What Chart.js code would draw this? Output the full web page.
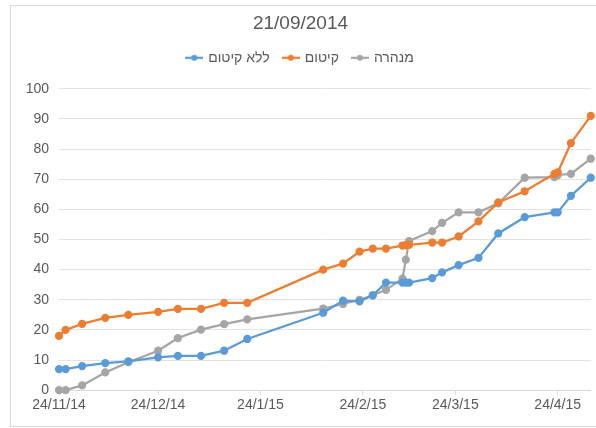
<!DOCTYPE html>
<html>
<head>
<meta charset="utf-8">
<script src="https://cdn.jsdelivr.net/npm/chart.js@4"></script>
<style>
  html, body { margin: 0; padding: 0; background: #fff; }
  #wrap { position: absolute; left: 0; top: 0; width: 596px; height: 428px; }
  #frame { position: absolute; left: 10px; top: 5px; width: 600px; height: 420px; border: 1px solid #d9d9d9; }
</style>
</head>
<body>
<div id="frame"></div>
<div id="wrap"><canvas id="chart" width="596" height="428"></canvas></div>
<script>
// measurement dates (d/m/yy)
const dates = ['24/11/14', '26/11/14', '1/12/14', '8/12/14', '15/12/14', '24/12/14', '30/12/14',
  '6/1/15', '13/1/15', '20/1/15', '12/2/15', '18/2/15', '23/2/15', '27/2/15', '3/3/15',
  '8/3/15', '9/3/15', '10/3/15', '17/3/15', '20/3/15', '25/3/15', '31/3/15', '6/4/15',
  '14/4/15', '23/4/15', '24/4/15', '28/4/15', '4/5/15'];

// series values
const noCut = [7, 7, 8, 9, 9.6, 10.9, 11.4, 11.4, 13.1, 17, 25.7, 29.7, 29.5, 31.5, 35.7,
  35.7, 35.7, 35.7, 37.2, 39.1, 41.5, 43.9, 52, 57.4, 59, 59, 64.5, 70.5];
const cut = [18, 20, 22, 24, 25, 26, 27, 27, 29, 29, 40, 42, 46, 47, 47,
  48, 48.1, 48.2, 49, 49, 51, 56, 62.3, 66, 71.8, 72.3, 82, 91];
const tunnel = [0, 0, 1.6, 5.9, 9.3, 13.1, 17.3, 20.1, 21.9, 23.5, 27.1, 28.6, 30, 31.5, 33.3,
  37, 43.3, 49.5, 52.8, 55.5, 59, 59, 62, 70.5, 70.7, 71.4, 71.8, 76.8];

const seriesNames = ['ללא קיטום', 'קיטום', 'מנהרה'];
const seriesColors = ['#5B9BD5', '#ED7D31', '#A5A5A5'];
const xTickLabels = ['24/11/14', '24/12/14', '24/1/15', '24/2/15', '24/3/15', '24/4/15'];
const yTicks = [0, 10, 20, 30, 40, 50, 60, 70, 80, 90, 100];

// days since first date
function dayOf(s) {
  const [d, m, y] = s.split('/').map(Number);
  return (Date.UTC(2000 + y, m - 1, d) - Date.UTC(2014, 10, 24)) / 864e5;
}
const xDays = dates.map(dayOf);
const xTickDays = xTickLabels.map(dayOf);

// legend marker: short line with a dot
function marker(color) {
  const c = document.createElement('canvas');
  c.width = 18; c.height = 8;
  const g = c.getContext('2d');
  g.strokeStyle = color; g.lineWidth = 2.25;
  g.beginPath(); g.moveTo(0, 4); g.lineTo(18, 4); g.stroke();
  g.fillStyle = color;
  g.beginPath(); g.arc(9, 4, 3, 0, Math.PI * 2); g.fill();
  return c;
}

const allValues = [noCut, cut, tunnel];
const datasets = allValues.map((vals, i) => ({
  label: seriesNames[i],
  data: vals.map((v, j) => ({ x: xDays[j], y: v })),
  borderColor: seriesColors[i],
  backgroundColor: seriesColors[i],
  borderWidth: 2.25,
  pointRadius: 3,
  pointHoverRadius: 3,
  pointStyle: 'circle',
  legendMarker: marker(seriesColors[i]),
  tension: 0,
  clip: 8
}));

// extra space under the legend
const legendGap = {
  id: 'legendGap',
  beforeInit(chart) {
    const fit = chart.legend.fit;
    chart.legend.fit = function () { fit.call(this); this.height += 14; };
  }
};

Chart.defaults.font.family = "'Liberation Sans', Arial, sans-serif";
Chart.defaults.color = '#595959';

new Chart(document.getElementById('chart'), {
  type: 'line',
  data: { datasets: datasets },
  plugins: [legendGap],
  options: {
    responsive: false,
    animation: false,
    layout: { padding: { left: 10, right: 5, top: 8, bottom: 12 } },
    plugins: {
      title: {
        display: true,
        text: '21/09/2014',
        font: { size: 19, weight: 'normal' },
        color: '#595959',
        padding: { top: 4, bottom: 2 }
      },
      legend: {
        labels: {
          font: { size: 14 },
          color: '#595959',
          usePointStyle: true,
          padding: 14,
          generateLabels: (chart) => chart.data.datasets.map((d, i) => ({
            text: d.label,
            pointStyle: d.legendMarker,
            fillStyle: d.borderColor,
            strokeStyle: d.borderColor,
            fontColor: '#595959',
            lineWidth: 0,
            datasetIndex: i,
            hidden: false
          }))
        }
      },
      tooltip: { enabled: false }
    },
    scales: {
      x: {
        type: 'linear',
        min: 0,
        max: 161,
        afterBuildTicks: (s) => { s.ticks = xTickDays.map(v => ({ value: v })); },
        ticks: {
          callback: (v, i) => xTickLabels[i],
          font: { size: 14 },
          color: '#595959',
          maxRotation: 0,
          autoSkip: false,
          padding: 2
        },
        grid: { drawOnChartArea: false, drawTicks: true, tickLength: 5, color: '#d9d9d9' },
        border: { color: '#d9d9d9' }
      },
      y: {
        min: 0,
        max: 100,
        afterBuildTicks: (s) => { s.ticks = yTicks.map(v => ({ value: v })); },
        afterFit: (s) => { s.width = 49; },
        ticks: { font: { size: 14 }, color: '#595959', padding: 10 },
        grid: { color: '#e3e3e3', drawTicks: false },
        border: { display: false }
      }
    }
  }
});
</script>
</body>
</html>
